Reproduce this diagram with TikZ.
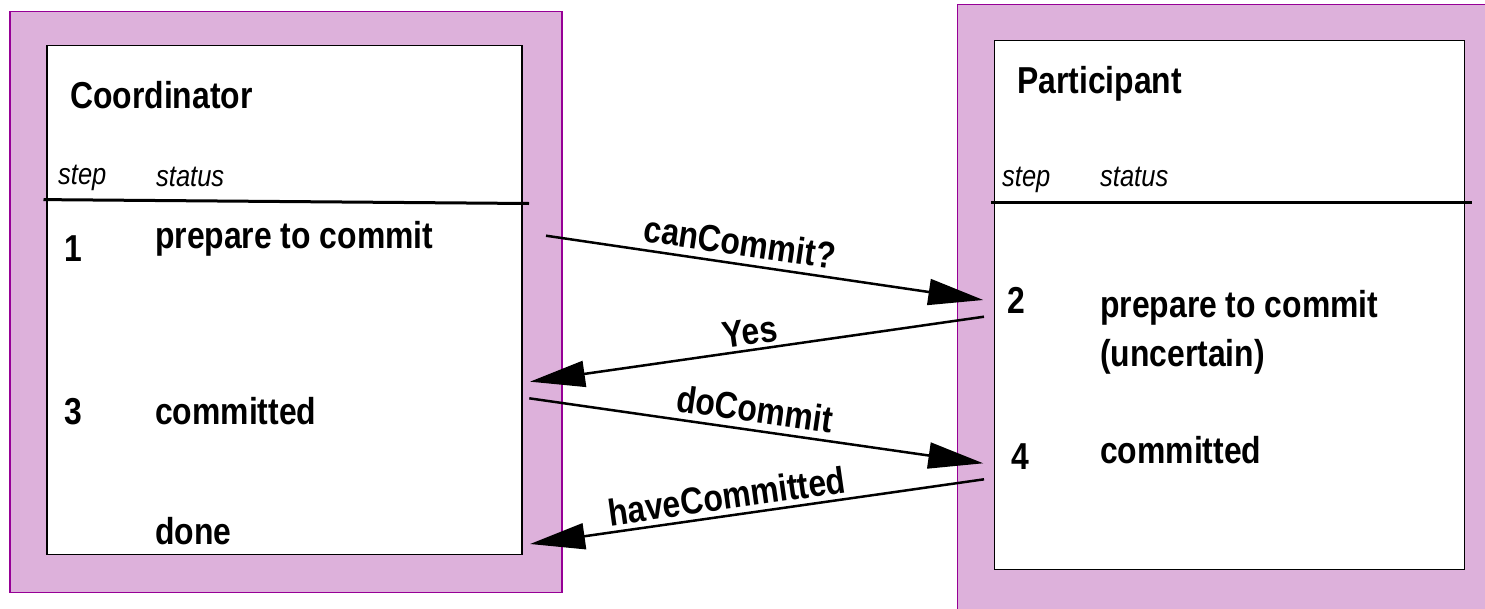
\documentclass[tikz,border=0pt]{standalone}
\usepackage{fontspec}
\setmainfont{Liberation Sans}
\newfontfamily\narrowsans[FakeStretch=0.85]{Liberation Sans}
\usetikzlibrary{arrows.meta}
\definecolor{lilac}{RGB}{221,177,219}
\definecolor{plum}{RGB}{150,0,150}
\begin{document}
\begin{tikzpicture}[x=1pt,y=-1pt,
  big/.style={font=\narrowsans\fontsize{37.5}{44}\selectfont\bfseries, anchor=base west, inner sep=0pt},
  hdr/.style={font=\narrowsans\fontsize{30}{36}\selectfont\itshape, anchor=base west, inner sep=0pt},
  lbl/.style={font=\narrowsans\fontsize{37.5}{44}\selectfont\bfseries, inner sep=0pt},
  msg/.style={line width=2.5pt, -{Triangle[length=55pt,width=26pt]}},
  panel/.style={fill=lilac, inner sep=0pt, outer sep=0pt, anchor=north west},
  card/.style={fill=white, draw=black, line width=1.5pt, inner sep=0pt, outer sep=0pt, anchor=north west},
  divider/.style={line width=3pt}]
\useasboundingbox (0,0) rectangle (1485,608);

% panels
\node[panel, draw=plum, line width=1.2pt, minimum width=552pt, minimum height=581pt] (cpanel) at (10,11.6) {};
\node[panel, minimum width=528pt, minimum height=604pt] (ppanel) at (957.5,4.7) {};
\draw[plum, line width=1.2pt] (ppanel.south west) -- (ppanel.north west) -- (ppanel.north east);

% cards
\node[card, minimum width=475pt, minimum height=509pt] (ccard) at (47,45.7) {};
\node[card, minimum width=470pt, minimum height=529pt] (pcard) at (994.4,40.7) {};

% dividers
\coordinate (cl) at (43.5,199.6);
\coordinate (cr) at (529,203.5);
\coordinate (pl) at (991,202.5);
\coordinate (pr) at (1472,202.5);
\draw[divider] (cl) -- (cr);
\draw[divider] (pl) -- (pr);

% coordinator texts
\node[big] (ctitle) at (70,108.5) {Coordinator};
\node[hdr] (cstep) at (58,184) {step};
\node[hdr] (cstatus) at (156,186) {status};
\node[big] (c1) at (64.6,261) {1};
\node[big] (cprep) at (155,248) {prepare to commit};
\node[big] (c3) at (64,424) {3};
\node[big] (ccomm) at (155,424) {committed};
\node[big] (cdone) at (155,544.6) {done};

% participant texts
\node[big] (ptitle) at (1017,93) {Participant};
\node[hdr] (pstep) at (1002,186) {step};
\node[hdr] (pstatus) at (1100,186) {status};
\node[big] (p2) at (1007,313) {2};
\node[big] (pprep) at (1100,317) {prepare to commit};
\node[big] (punc) at (1100,366) {(uncertain)};
\node[big] (p4) at (1011,469) {4};
\node[big] (pcomm) at (1100,463) {committed};

% message end points
\coordinate (a1) at (546,235.7);
\coordinate (b1) at (983.3,300);
\coordinate (a2) at (984,316.7);
\coordinate (b2) at (530,381.7);
\coordinate (a3) at (529.3,398.3);
\coordinate (b3) at (983.3,463.3);
\coordinate (a4) at (984,479.3);
\coordinate (b4) at (530,544);

\draw[msg] (a1) -- (b1);
\draw[msg] (a2) -- (b2);
\draw[msg] (a3) -- (b3);
\draw[msg] (a4) -- (b4);

\node[lbl, rotate=-8.4] (l1) at (740,242) {canCommit?};
\node[lbl, rotate=8.1] (l2) at (750,332) {Yes};
\node[lbl, rotate=-8.2] (l3) at (755,409) {doCommit};
\node[lbl, rotate=8.1] (l4) at (727,496) {haveCommitted};
\end{tikzpicture}
\end{document}
